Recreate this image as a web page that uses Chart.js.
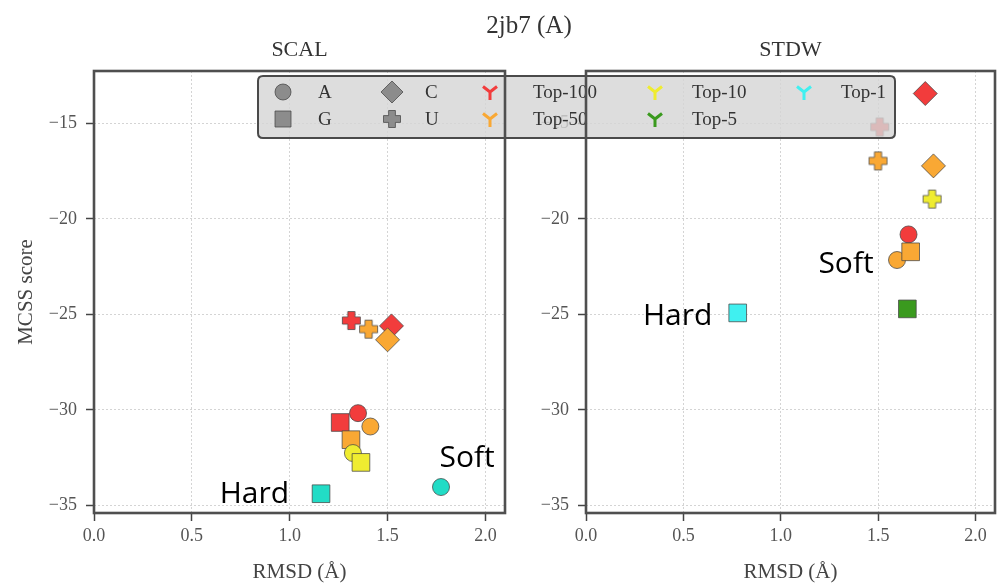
<!DOCTYPE html>
<html><head><meta charset="utf-8">
<script src="https://cdn.jsdelivr.net/npm/chart.js@4.4.1/dist/chart.umd.min.js"></script>
<style>
html,body{margin:0;padding:0;background:#fff;}
#wrap{position:relative;width:998px;height:587px;overflow:hidden;}
#wrap canvas{position:absolute;left:0;top:0;}
</style>
</head><body>
<div id="wrap"><canvas id="c1" width="998" height="587"></canvas><canvas id="c2" width="998" height="587"></canvas></div>
<script>
// ---------------- data ----------------
const figTitle = '2jb7 (A)';
const panelNames = ['SCAL', 'STDW'];
const shapeNames = ['A', 'G', 'C', 'U'];
const rankNames = ['Top-100', 'Top-50', 'Top-10', 'Top-5', 'Top-1'];
const xTicks = [0, 0.5, 1.0, 1.5, 2.0];
const xTickLabels = ['0.0', '0.5', '1.0', '1.5', '2.0'];
const yTicks = [-35, -30, -25, -20, -15];
const yTickLabels = ['\u221235', '\u221230', '\u221225', '\u221220', '\u221215'];

const scalRmsd  = [1.315, 1.52, 1.349, 1.258, 1.403, 1.50, 1.412, 1.313, 1.323, 1.364, 1.16, 1.773];
const scalScore = [-25.32, -25.60, -30.17, -30.66, -25.77, -26.33, -30.87, -31.56, -32.26, -32.75, -34.39, -34.04];
const scalBase  = ['U', 'C', 'A', 'G', 'U', 'C', 'A', 'G', 'A', 'G', 'G', 'A'];
const scalRank  = ['Top-100', 'Top-100', 'Top-100', 'Top-100', 'Top-50', 'Top-50', 'Top-50', 'Top-50', 'Top-10', 'Top-10', 'Top-1', 'Top-1'];

const stdwRmsd  = [1.742, 1.508, 1.656, 1.4995, 1.784, 1.597, 1.667, 1.777, 1.65, 0.779];
const stdwScore = [-13.43, -15.18, -20.81, -16.96, -17.22, -22.15, -21.72, -18.96, -24.71, -24.92];
const stdwBase  = ['C', 'U', 'A', 'U', 'C', 'A', 'G', 'U', 'G', 'G'];
const stdwRank  = ['Top-100', 'Top-100', 'Top-100', 'Top-50', 'Top-50', 'Top-50', 'Top-50', 'Top-10', 'Top-5', 'Top-1'];

const scalNoteText = ['Hard', 'Soft'];
const scalNoteX    = [0.997, 1.765];
const scalNoteY    = [-34.86, -32.97];
const stdwNoteText = ['Soft', 'Hard'];
const stdwNoteX    = [1.477, 0.649];
const stdwNoteY    = [-22.83, -25.54];

// ---------------- styles ----------------
const SERIF = '"Liberation Serif", "DejaVu Serif", serif';
const SANS = '"Open Sans", "Noto Sans", sans-serif';
const rankColors = {'Top-100': '#f23c3c', 'Top-50': '#f9a834', 'Top-10': '#efec30', 'Top-5': '#3a9a1e', 'Top-1': '#40f0f0'};
const scalTop1Color = '#22dcc6';
const EDGE = 'rgba(70,70,70,0.75)';

function makePlus(color, size) {
  const c = document.createElement('canvas');
  const S = size + 3;
  c.width = S; c.height = S;
  const g = c.getContext('2d');
  const m = S / 2, h = size / 2, a = size * 0.2;
  g.beginPath();
  g.moveTo(m - a, m - h); g.lineTo(m + a, m - h); g.lineTo(m + a, m - a);
  g.lineTo(m + h, m - a); g.lineTo(m + h, m + a); g.lineTo(m + a, m + a);
  g.lineTo(m + a, m + h); g.lineTo(m - a, m + h); g.lineTo(m - a, m + a);
  g.lineTo(m - h, m + a); g.lineTo(m - h, m - a); g.lineTo(m - a, m - a);
  g.closePath();
  g.lineJoin = 'round';
  g.fillStyle = color; g.fill();
  g.strokeStyle = EDGE; g.lineWidth = 1; g.stroke();
  return c;
}
const styleOf = {A: 'circle', G: 'rect', C: 'rectRot'};
const radiusOf = {A: 8.5, G: 12.5, C: 12, U: 9};

function buildDataset(xs, ys, bases, ranks, top1Color) {
  const colors = ranks.map(r => r === 'Top-1' && top1Color ? top1Color : rankColors[r]);
  return {
    data: xs.map((x, i) => ({x: x, y: ys[i]})),
    showLine: false,
    pointStyle: bases.map((b, i) => b === 'U' ? makePlus(colors[i], 18) : styleOf[b]),
    pointRadius: bases.map(b => radiusOf[b]),
    pointBackgroundColor: colors,
    pointBorderColor: EDGE,
    pointBorderWidth: 1,
    pointHoverRadius: bases.map(b => radiusOf[b])
  };
}

function notesPlugin(texts, xs, ys, aligns, subtitle) {
  return {
    id: 'notes',
    afterDatasetsDraw(chart) {
      const ctx = chart.ctx, sx = chart.scales.x, sy = chart.scales.y;
      ctx.save();
      ctx.font = '30px ' + SANS;
      ctx.fillStyle = '#000';
      ctx.textBaseline = 'alphabetic';
      texts.forEach((t, i) => {
        ctx.textAlign = aligns[i];
        ctx.fillText(t, sx.getPixelForValue(xs[i]), sy.getPixelForValue(ys[i]));
      });
      ctx.font = '22px ' + SERIF;
      ctx.fillStyle = '#333';
      ctx.textAlign = 'center';
      ctx.textBaseline = 'middle';
      const a = chart.chartArea;
      ctx.fillText(subtitle, (a.left + a.right) / 2, 50);
      ctx.restore();
    }
  };
}

function makeOptions(pad, yWidth, showYTitle) {
  return {
    responsive: false, animation: false, devicePixelRatio: 1,
    layout: {padding: pad, autoPadding: false},
    plugins: {legend: {display: false}, tooltip: {enabled: false}, title: {display: false}},
    events: [],
    scales: {
      x: {
        type: 'linear', min: 0, max: 2.1,
        afterBuildTicks: s => { s.ticks = xTicks.map(v => ({value: v})); },
        afterFit: s => { s.height = 74; s.paddingLeft = 0; s.paddingRight = 0; },
        ticks: {callback: (v, i) => xTickLabels[i], font: {family: SERIF, size: 18}, color: '#555', padding: 4, maxRotation: 0, autoSkip: false},
        grid: {color: '#d4d4d4', lineWidth: 1, tickLength: 8, tickColor: '#444', tickWidth: 1.5, tickBorderDash: []},
        border: {display: false, dash: [2, 2]},
        title: {display: true, text: 'RMSD (\u00c5)', font: {family: SERIF, size: 21}, color: '#444', padding: {top: 0, bottom: 2}}
      },
      y: {
        type: 'linear', min: -35.4, max: -12.25,
        afterBuildTicks: s => { s.ticks = yTicks.map(v => ({value: v})); },
        afterFit: s => { s.width = yWidth; s.paddingTop = 0; s.paddingBottom = 0; },
        ticks: {callback: (v, i) => yTickLabels[i], font: {family: SERIF, size: 18}, color: '#555', padding: 9, autoSkip: false},
        grid: {color: '#d4d4d4', lineWidth: 1, tickLength: 8, tickColor: '#444', tickWidth: 1.5, tickBorderDash: []},
        border: {display: false, dash: [2, 2]},
        title: {display: showYTitle, text: 'MCSS score', font: {family: SERIF, size: 21}, color: '#444', padding: {top: 14, bottom: 0}}
      }
    }
  };
}

// ---------------- left panel ----------------
const chart1 = new Chart(document.getElementById('c1'), {
  type: 'scatter',
  data: {datasets: [buildDataset(scalRmsd, scalScore, scalBase, scalRank, scalTop1Color)]},
  options: makeOptions({left: 0, right: 998 - 505, top: 71, bottom: 0}, 94, true),
  plugins: [notesPlugin(scalNoteText, scalNoteX, scalNoteY, ['right', 'left'], panelNames[0])]
});

// ---------------- legend + frames ----------------
function drawMarker(ctx, base, x, y, color) {
  ctx.save();
  ctx.fillStyle = color; ctx.strokeStyle = EDGE; ctx.lineWidth = 1;
  if (base === 'U') {
    const p = makePlus(color, 17);
    ctx.drawImage(p, x - p.width / 2, y - p.height / 2);
  } else {
    ctx.beginPath();
    if (base === 'A') ctx.arc(x, y, 8, 0, Math.PI * 2);
    else if (base === 'G') ctx.rect(x - 8, y - 8, 16, 16);
    else { ctx.moveTo(x, y - 11); ctx.lineTo(x + 11, y); ctx.lineTo(x, y + 11); ctx.lineTo(x - 11, y); ctx.closePath(); }
    ctx.fill(); ctx.stroke();
  }
  ctx.restore();
}
function drawTri(ctx, x, y, color) {
  ctx.save();
  ctx.strokeStyle = color; ctx.lineWidth = 3; ctx.lineCap = 'butt';
  ctx.beginPath();
  ctx.moveTo(x, y); ctx.lineTo(x, y + 8);
  ctx.moveTo(x, y); ctx.lineTo(x - 7, y - 5.5);
  ctx.moveTo(x, y); ctx.lineTo(x + 7, y - 5.5);
  ctx.stroke();
  ctx.restore();
}
function drawLegend(ctx) {
  const L = 258, T = 76, R = 895, B = 138, rr = 5;
  ctx.save();
  ctx.beginPath();
  ctx.moveTo(L + rr, T); ctx.lineTo(R - rr, T); ctx.quadraticCurveTo(R, T, R, T + rr);
  ctx.lineTo(R, B - rr); ctx.quadraticCurveTo(R, B, R - rr, B);
  ctx.lineTo(L + rr, B); ctx.quadraticCurveTo(L, B, L, B - rr);
  ctx.lineTo(L, T + rr); ctx.quadraticCurveTo(L, T, L + rr, T);
  ctx.closePath();
  ctx.fillStyle = 'rgba(214,214,214,0.82)';
  ctx.fill();
  ctx.strokeStyle = '#4a4a4a'; ctx.lineWidth = 2; ctx.stroke();
  const items = shapeNames.map(s => ({kind: 'shape', name: s})).concat(rankNames.map(r => ({kind: 'rank', name: r})));
  const markX = [283, 392, 490, 655, 804], textX = [318, 425, 533, 692, 841], rowY = [92, 119];
  ctx.font = '19px ' + SERIF;
  items.forEach((it, i) => {
    const col = Math.floor(i / 2), row = i % 2;
    const mx = markX[col], my = rowY[row];
    if (it.kind === 'shape') drawMarker(ctx, it.name, mx, my, '#8c8c8c');
    else drawTri(ctx, mx, my, rankColors[it.name]);
    ctx.fillStyle = '#333'; ctx.textAlign = 'left'; ctx.textBaseline = 'middle';
    ctx.fillText(it.name, textX[col], my + 1);
  });
  ctx.restore();
}

const overlayPlugin = {
  id: 'overlay',
  afterDatasetsDraw(chart) { drawLegend(chart.ctx); },
  afterDraw(chart) {
    const ctx = chart.ctx;
    ctx.save();
    ctx.strokeStyle = '#4f4f4f'; ctx.lineWidth = 2.6;
    [chart1.chartArea, chart.chartArea].forEach(a => {
      ctx.strokeRect(a.left, a.top, a.right - a.left, a.bottom - a.top);
    });
    ctx.font = '25px ' + SERIF;
    ctx.fillStyle = '#333'; ctx.textAlign = 'center'; ctx.textBaseline = 'middle';
    ctx.fillText(figTitle, 529, 26);
    ctx.restore();
  }
};

// ---------------- right panel ----------------
const chart2 = new Chart(document.getElementById('c2'), {
  type: 'scatter',
  data: {datasets: [buildDataset(stdwRmsd, stdwScore, stdwBase, stdwRank, null)]},
  options: makeOptions({left: 586 - 94, right: 3, top: 71, bottom: 0}, 94, false),
  plugins: [notesPlugin(stdwNoteText, stdwNoteX, stdwNoteY, ['right', 'right'], panelNames[1]), overlayPlugin]
});
</script>
</body></html>
